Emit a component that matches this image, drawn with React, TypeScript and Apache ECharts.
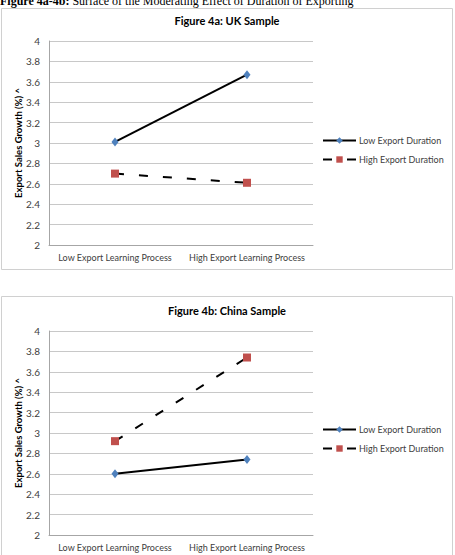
import React, { useEffect, useRef } from "react";
import * as echarts from "echarts";

const categories = ["Low Export Learning Process", "High Export Learning Process"];
const seriesNames = ["Low Export Duration", "High Export Duration"];
const ukLow = [3.01, 3.67];
const ukHigh = [2.7, 2.61];
const cnLow = [2.6, 2.74];
const cnHigh = [2.92, 3.74];
const panelTitles = ["Figure 4a: UK Sample", "Figure 4b: China Sample"];
const yAxisTitle = "Export Sales Growth (%) ^";
const headerBold = "Figure 4a-4b:";
const headerRest = " Surface of the Moderating Effect of Duration of Exporting";
const yMin = 2;
const yMax = 4;
const yStep = 0.2;

const FONT = "Lato, 'Open Sans', sans-serif";
const LABEL = "#404040";
const GRID = "#c8c8c8";

export default function App() {
  const ref = useRef<HTMLDivElement>(null);
  useEffect(() => {
    if (!ref.current) return;
    const chart = echarts.init(ref.current, null, { renderer: "svg" });
    const gridTops = [41, 331];
    const xAxes = gridTops.map((_, i) => ({
      type: "category",
      gridIndex: i,
      data: categories,
      boundaryGap: true,
      axisLine: { show: true, lineStyle: { color: "#a6a6a6", width: 1 } },
      axisTick: { show: false },
      axisLabel: { color: LABEL, fontSize: 9, fontFamily: FONT, margin: 8, interval: 0 },
    }));
    const yAxes = gridTops.map((_, i) => ({
      type: "value",
      gridIndex: i,
      min: yMin,
      max: yMax,
      interval: yStep,
      name: yAxisTitle,
      nameLocation: "middle",
      nameRotate: 90,
      nameGap: 26,
      nameMoveOverlap: false,
      nameTextStyle: { color: "#000", fontSize: 9.5, fontWeight: "bold", fontFamily: FONT },
      axisLine: { show: true, lineStyle: { color: "#a6a6a6", width: 1 } },
      axisTick: { show: false },
      axisLabel: {
        color: LABEL,
        fontSize: 10,
        fontFamily: FONT,
        margin: 9,
        formatter: (v: number) => String(Math.round(v * 10) / 10),
      },
      splitLine: { show: true, lineStyle: { color: GRID, width: 1 } },
    }));
    const mk = (name: string, data: number[], idx: number, dashed: boolean) => ({
      name,
      type: "line",
      xAxisIndex: idx,
      yAxisIndex: idx,
      data,
      symbol: dashed ? "rect" : "diamond",
      symbolSize: dashed ? 8 : [7, 9],
      itemStyle: { color: dashed ? "#C0504D" : "#4F81BD" },
      lineStyle: { color: "#000", width: 2, type: dashed ? [9, 15] : "solid" },
      z: dashed ? 3 : 4,
    });
    const legendFor = (top: number) => ({
      orient: "vertical",
      left: 322,
      top,
      padding: 0,
      itemWidth: 33,
      itemHeight: 8,
      itemGap: 10,
      data: seriesNames,
      textStyle: { color: LABEL, fontSize: 9, fontFamily: FONT, padding: [0, 0, 0, -2] },
      selectedMode: false,
    });
    chart.setOption({
      animation: false,
      backgroundColor: "#fff",
      title: panelTitles.map((t, i) => ({
        text: t,
        left: 227,
        top: i === 0 ? 15 : 305,
        textAlign: "center",
        padding: 0,
        textStyle: { fontSize: 11, fontWeight: "bold", color: "#000", fontFamily: FONT },
      })),
      grid: gridTops.map((t) => ({ left: 49, top: t, width: 264, height: 204 })),
      xAxis: xAxes,
      yAxis: yAxes,
      legend: [legendFor(136), legendFor(425)],
      series: [
        mk(seriesNames[0], ukLow, 0, false),
        mk(seriesNames[1], ukHigh, 0, true),
        mk(seriesNames[0], cnLow, 1, false),
        mk(seriesNames[1], cnHigh, 1, true),
      ],
      graphic: [
        {
          type: "rect",
          shape: { x: 1.5, y: 8.5, width: 451, height: 261 },
          style: { fill: "none", stroke: "#d0d0d0", lineWidth: 1 },
          silent: true,
        },
        {
          type: "rect",
          shape: { x: 1.5, y: 296.5, width: 451, height: 280 },
          style: { fill: "none", stroke: "#d0d0d0", lineWidth: 1 },
          silent: true,
        },
        {
          type: "text",
          x: 0,
          y: 6.5,
          style: {
            text: "{b|" + headerBold + "}{n|" + headerRest + "}",
            verticalAlign: "bottom",
            rich: {
              b: { fontFamily: "'Liberation Serif', serif", fontSize: 12, fontWeight: "bold", fill: "#000" },
              n: { fontFamily: "'Liberation Serif', serif", fontSize: 12, fill: "#000" },
            },
          },
          silent: true,
        },
      ],
    });
    return () => chart.dispose();
  }, []);
  return (
    <div
      ref={ref}
      style={{ position: "fixed", left: 0, top: 0, width: 455, height: 555 }}
    />
  );
}
